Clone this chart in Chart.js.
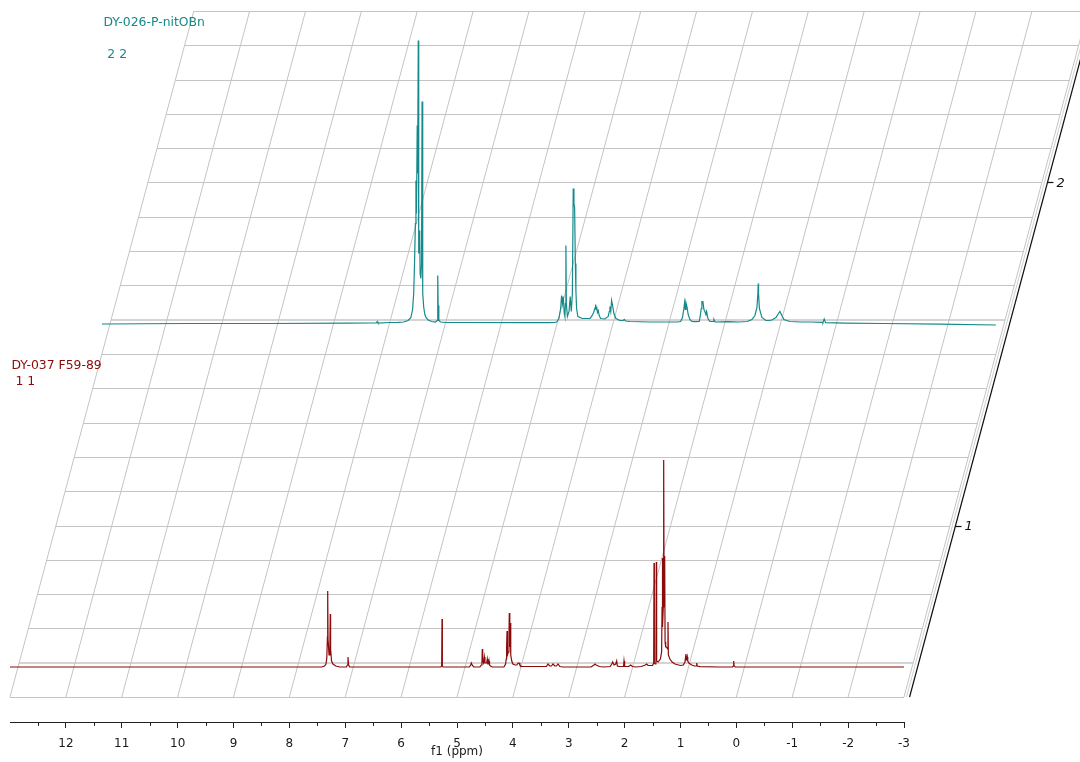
<!DOCTYPE html>
<html>
<head>
<meta charset="utf-8">
<title>Stacked 1H NMR spectra</title>
<script src="https://cdn.jsdelivr.net/npm/chart.js@4.4.1/dist/chart.umd.min.js"></script>
<style>
  html, body { margin: 0; padding: 0; background: #ffffff; }
  #wrap { width: 1080px; height: 762px; }
</style>
</head>
<body>
<div id="wrap"><canvas id="nmr" width="1080" height="762"></canvas></div>
<script>
// ---- f1 axis ticks (ppm) ----
const ppmTicks = [13, 12, 11, 10, 9, 8, 7, 6, 5, 4, 3, 2, 1, 0, -1, -2, -3];
const axisTitle = 'f1 (ppm)';

// ---- spectrum names and stack labels ----
const spectrumNames = ['DY-037 F59-89', 'DY-026-P-nitOBn'];
const spectrumTags = [' 1 1', ' 2 2'];
const depthTickLabels = ['1', '2'];

// ---- spectrum 1 : DY-037 F59-89 (chemical shift, intensity a.u.) ----
const spec1Ppm = [
  13.0, 7.42, 7.37, 7.345, 7.33, 7.319, 7.314, 7.308, 7.29, 7.275, 7.268, 7.262, 7.245, 7.22, 7.17, 7.10,
  6.98, 6.962, 6.951, 6.940, 6.92,
  5.29, 5.274, 5.268, 5.262, 5.25,
  4.78, 4.755, 4.744, 4.73, 4.70,
  4.59, 4.565, 4.553, 4.547, 4.540, 4.525, 4.511, 4.500, 4.47, 4.458, 4.448, 4.435, 4.427, 4.418, 4.40, 4.37,
  4.16, 4.13, 4.12, 4.112, 4.105, 4.098, 4.080, 4.070, 4.064, 4.058, 4.052, 4.046, 4.038, 4.02, 4.00, 3.96,
  3.93, 3.905, 3.890, 3.875, 3.85,
  3.40, 3.371, 3.34, 3.31, 3.282, 3.25, 3.22, 3.192, 3.16, 3.10,
  2.60, 2.55, 2.530, 2.51, 2.45, 2.38,
  2.26, 2.23, 2.214, 2.19, 2.16, 2.142, 2.13, 2.10, 2.02, 2.011, 2.000, 1.93, 1.891, 1.86, 1.80, 1.70, 1.63, 1.605, 1.58, 1.50,
  1.480, 1.474, 1.468, 1.455, 1.440, 1.433, 1.427, 1.40, 1.36, 1.338, 1.330, 1.326, 1.318, 1.308, 1.301, 1.294, 1.283, 1.276, 1.265, 1.250, 1.232, 1.224, 1.217, 1.19, 1.15, 1.10,
  1.00, 0.95, 0.92, 0.905, 0.902, 0.895, 0.885, 0.878, 0.870, 0.85, 0.80, 0.75, 0.72, 0.710, 0.700, 0.65, 0.30,
  0.07, 0.055, 0.048, 0.040, 0.02, -3.0
];
const spec1Int = [
  0, 0, 1, 3, 9, 30, 76, 28, 12, 20, 53, 18, 6, 3, 1, 0,
  0, 2, 10, 2, 0,
  0, 1, 48, 1, 0,
  0, 2, 4, 2, 0,
  0, 2, 6, 18, 6, 4, 10, 4, 4, 8, 3, 3, 6, 2, 1, 0,
  0, 3, 8, 20, 36, 12, 15, 30, 54, 20, 25, 44, 12, 6, 3, 2,
  2, 4, 4, 2, 0.5,
  0.5, 3, 1, 1, 3, 1, 1, 3, 0.5, 0,
  0, 2, 3, 2, 0.5, 0,
  0.5, 3, 5, 2, 3, 6, 1, 0.5, 0.5, 6, 0.5, 0.5, 2, 0.5, 0, 0.5, 2, 3, 1.5, 1.5,
  4, 104, 4, 3, 5, 105, 6, 5, 8, 15, 60, 109, 40, 60, 207, 80, 111, 25, 20, 20, 18, 45, 12, 8, 5, 3,
  1.5, 2, 5, 12, 13, 7, 8, 10, 6, 4, 2, 1, 1, 4, 1, 0.3, 0,
  0, 1, 6, 1, 0, 0
];

// ---- spectrum 2 : DY-026-P-nitOBn (chemical shift, intensity a.u.) ----
const spec2Ppm = [
  13.0, 11.5, 10.0, 8.6, 8.2, 8.09, 8.073, 8.06, 7.85, 7.70, 7.60, 7.52, 7.47, 7.44, 7.42, 7.405, 7.39, 7.380, 7.370, 7.357, 7.350, 7.338,
  7.330, 7.320, 7.312, 7.305, 7.292, 7.280, 7.270, 7.262, 7.255, 7.24, 7.22, 7.20, 7.16, 7.10, 7.03, 7.000, 6.992, 6.987, 6.982, 6.970, 6.94, 6.85,
  6.5, 5.5, 5.0, 4.90, 4.862, 4.821, 4.790, 4.773, 4.758, 4.744, 4.725, 4.714, 4.704, 4.696, 4.688, 4.669, 4.640, 4.619, 4.600, 4.580,
  4.565, 4.552, 4.540, 4.527, 4.517, 4.505, 4.481, 4.40, 4.30, 4.266, 4.236, 4.20, 4.172, 4.164, 4.155, 4.146, 4.132, 4.117, 4.100, 4.075,
  4.00, 3.939, 3.920, 3.908, 3.893, 3.878, 3.860, 3.837, 3.801, 3.73, 3.67, 3.652, 3.63, 3.55,
  3.2, 3.0, 2.80, 2.70, 2.643, 2.610, 2.584, 2.572, 2.560, 2.548, 2.530, 2.507, 2.477, 2.44, 2.38, 2.310, 2.290, 2.274, 2.262, 2.244,
  2.226, 2.208, 2.190, 2.178, 2.154, 2.119, 2.06, 2.047, 2.03, 2.01, 1.80, 1.60, 1.45, 1.367, 1.313, 1.277, 1.260, 1.254, 1.248, 1.233,
  1.188, 1.116, 1.06, 1.009, 0.937, 0.892, 0.866, 0.839, 0.794, 0.69, 0.50, 0.30, 0.11, 0.096, 0.073, 0.05, -0.3, -1.0, -2.0, -3.0
];
const spec2Int = [
  -0.5, 0, 0, 0.3, 0.5, 0.5, 2, 0.5, 1, 1.2, 1.5, 3, 6, 14, 30, 60, 100, 143, 110, 198, 150, 283,
  70, 93, 88, 50, 45, 60, 222, 60, 30, 16, 9, 6, 3.5, 2, 1.5, 3, 20, 48, 18, 3, 1.5, 1,
  1, 0.8, 0.8, 1, 1.5, 5, 15, 28, 20, 27, 10, 7, 20, 78, 20, 7, 12, 27, 12, 30,
  135, 120, 116, 60, 33, 15, 7, 5, 5, 5, 7, 11, 16, 19, 14, 17, 11, 13, 8, 5,
  4.5, 7, 12, 17, 12, 23, 18, 10, 5, 3, 3, 4, 2.5, 2,
  1.5, 1.5, 1.5, 1.5, 2, 6, 15, 21, 14, 21, 17, 9, 4, 2, 1.8, 2, 8, 15, 22, 22,
  14, 12, 9, 12, 5, 2, 2, 4, 1.8, 1.5, 1.8, 1.5, 2, 4, 8, 16, 30, 40, 30, 15,
  6, 3, 3, 3.5, 6, 10, 12, 9, 4, 2, 1.5, 1.5, 1.2, 0.8, 4.5, 0.8, 0.4, 0, -0.7, -1.5
];

// ---- stacked-plot geometry (in y-scale units) ----
const FLOOR_Y = 25;         // front edge of the stacking floor
const ROW_H = 34.3;         // height of one depth row
const N_ROWS = 20;          // depth rows in the floor grid
const SKEW_PPM = 0.1645;    // horizontal drift per depth row, in ppm
const baselines = [55, 398.5];   // zero line of each spectrum
const stackRows = [0, 10];       // depth rows each spectrum is pushed back
const depthTickRows = [5, 15];

const RED = '#8b0a0a';
const TEAL = '#16898a';
const FONT = 'DejaVu Sans';

function toXY(ppm, inten, base) {
  return ppm.map((p, i) => ({ x: p, y: base + inten[i] }));
}

// Floor grid: depth rows plus skewed ppm lines, drawn through the scales
const floorGrid = {
  id: 'floorGrid',
  beforeDatasetsDraw(chart) {
    const { ctx } = chart;
    const x = chart.scales.x, y = chart.scales.y;
    const P = (ppm, yv) => [x.getPixelForValue(ppm - SKEW_PPM * (yv - FLOOR_Y) / ROW_H), y.getPixelForValue(yv)];
    const top = FLOOR_Y + N_ROWS * ROW_H;
    ctx.save();
    // depth rows
    for (let k = 0; k <= N_ROWS; k++) {
      const yv = FLOOR_Y + k * ROW_H;
      const a = P(ppmTicks[0], yv), b = P(ppmTicks[ppmTicks.length - 1], yv);
      const plane = stackRows.some(r => r + 1 === k);
      ctx.strokeStyle = plane ? '#d4d4d4' : '#c4c4c4';
      ctx.lineWidth = plane ? 2 : 1;
      const py = plane ? Math.round(a[1]) : Math.round(a[1]) + 0.5;
      ctx.beginPath();
      ctx.moveTo(a[0], py);
      ctx.lineTo(b[0], py);
      ctx.stroke();
    }
    // ppm lines
    ctx.strokeStyle = '#c4c4c4';
    ctx.lineWidth = 1;
    for (const t of ppmTicks) {
      const a = P(t, FLOOR_Y), b = P(t, top);
      ctx.beginPath();
      ctx.moveTo(a[0], a[1]);
      ctx.lineTo(b[0], b[1]);
      ctx.stroke();
    }
    // side wall of the box
    const s0 = P(-3.045, FLOOR_Y), s1 = P(-3.045, top);
    ctx.strokeStyle = '#cfcfcf';
    ctx.beginPath();
    ctx.moveTo(s0[0], s0[1]);
    ctx.lineTo(s1[0], s1[1]);
    ctx.stroke();
    ctx.restore();
  },
  afterDraw(chart) {
    const { ctx } = chart;
    const x = chart.scales.x, y = chart.scales.y;
    const P = (ppm, yv) => [x.getPixelForValue(ppm - SKEW_PPM * (yv - FLOOR_Y) / ROW_H), y.getPixelForValue(yv)];
    const top = FLOOR_Y + N_ROWS * ROW_H;
    ctx.save();
    // depth axis
    const a0 = P(-3.1, FLOOR_Y), a1 = P(-3.1, top);
    ctx.strokeStyle = '#111';
    ctx.lineWidth = 1.2;
    ctx.beginPath();
    ctx.moveTo(a0[0], a0[1]);
    ctx.lineTo(a1[0], a1[1]);
    ctx.stroke();
    ctx.font = 'italic 13px "' + FONT + '"';
    ctx.fillStyle = '#111';
    ctx.textBaseline = 'middle';
    ctx.textAlign = 'left';
    depthTickRows.forEach((r, i) => {
      const p = P(-3.1, FLOOR_Y + r * ROW_H);
      ctx.beginPath();
      ctx.moveTo(p[0], Math.round(p[1]) + 0.5);
      ctx.lineTo(p[0] + 6, Math.round(p[1]) + 0.5);
      ctx.stroke();
      ctx.fillText(depthTickLabels[i], p[0] + 9, p[1] + 1);
    });
    // minor ticks on the f1 axis
    ctx.strokeStyle = '#222';
    ctx.lineWidth = 1;
    const ay = x.top;
    for (let i = 0; i < ppmTicks.length - 1; i++) {
      const px = Math.round(x.getPixelForValue(ppmTicks[i] - 0.5)) + 0.5;
      ctx.beginPath();
      ctx.moveTo(px, ay);
      ctx.lineTo(px, ay + 4);
      ctx.stroke();
    }
    // axis title, tucked just under the tick labels
    ctx.font = '12px "' + FONT + '"';
    ctx.fillStyle = '#1a1a1a';
    ctx.textAlign = 'center';
    ctx.textBaseline = 'middle';
    ctx.fillText(axisTitle, (x.left + x.right) / 2, x.top + 30);
    // spectrum names
    ctx.font = '12.4px "' + FONT + '"';
    ctx.textAlign = 'left';
    ctx.textBaseline = 'alphabetic';
    const colors = [RED, TEAL];
    const xs = [chart.scales.x, chart.scales.xBack];
    const nameLift = [298.5, 298];
    const tagLift = [282, 265.5];
    spectrumNames.forEach((name, i) => {
      const lx = xs[i].getPixelForValue(13) + 1.5;
      ctx.fillStyle = colors[i];
      ctx.fillText(name, lx, y.getPixelForValue(baselines[i] + nameLift[i]));
      ctx.fillText(spectrumTags[i], lx, y.getPixelForValue(baselines[i] + tagLift[i]));
    });
    ctx.restore();
  }
};

const backOffset = stackRows[1] * SKEW_PPM;

new Chart(document.getElementById('nmr'), {
  type: 'line',
  data: {
    datasets: [
      {
        label: spectrumNames[0],
        data: toXY(spec1Ppm, spec1Int, baselines[0]),
        borderColor: RED, borderWidth: 1.2, pointRadius: 0, tension: 0,
        xAxisID: 'x', yAxisID: 'y', clip: false
      },
      {
        label: spectrumNames[1],
        data: toXY(spec2Ppm, spec2Int, baselines[1]),
        borderColor: TEAL, borderWidth: 1.2, pointRadius: 0, tension: 0,
        xAxisID: 'xBack', yAxisID: 'y', clip: false
      }
    ]
  },
  options: {
    responsive: false,
    animation: false,
    devicePixelRatio: 1,
    layout: { padding: { left: 10, right: 176, top: 11, bottom: 2 } },
    plugins: { legend: { display: false }, tooltip: { enabled: false } },
    scales: {
      x: {
        type: 'linear', position: 'bottom', reverse: true, min: -3, max: 13,
        border: { display: true, color: '#222', width: 1 },
        grid: {
          drawOnChartArea: false, drawTicks: true, tickLength: 6,
          tickColor: c => (c.tick && c.tick.value === 13) ? 'rgba(0,0,0,0)' : '#222'
        },
        ticks: {
          stepSize: 1, autoSkip: false, maxRotation: 0, padding: 10, color: '#1a1a1a',
          font: { family: FONT, size: 12, lineHeight: 1 },
          callback: v => (v === 13 ? '' : String(v))
        },
        title: { display: false }
      },
      xBack: {
        type: 'linear', position: 'bottom', reverse: true, display: false,
        min: -3 + backOffset, max: 13 + backOffset
      },
      y: { type: 'linear', min: 0, max: 711, display: false }
    }
  },
  plugins: [floorGrid]
});
</script>
</body>
</html>
